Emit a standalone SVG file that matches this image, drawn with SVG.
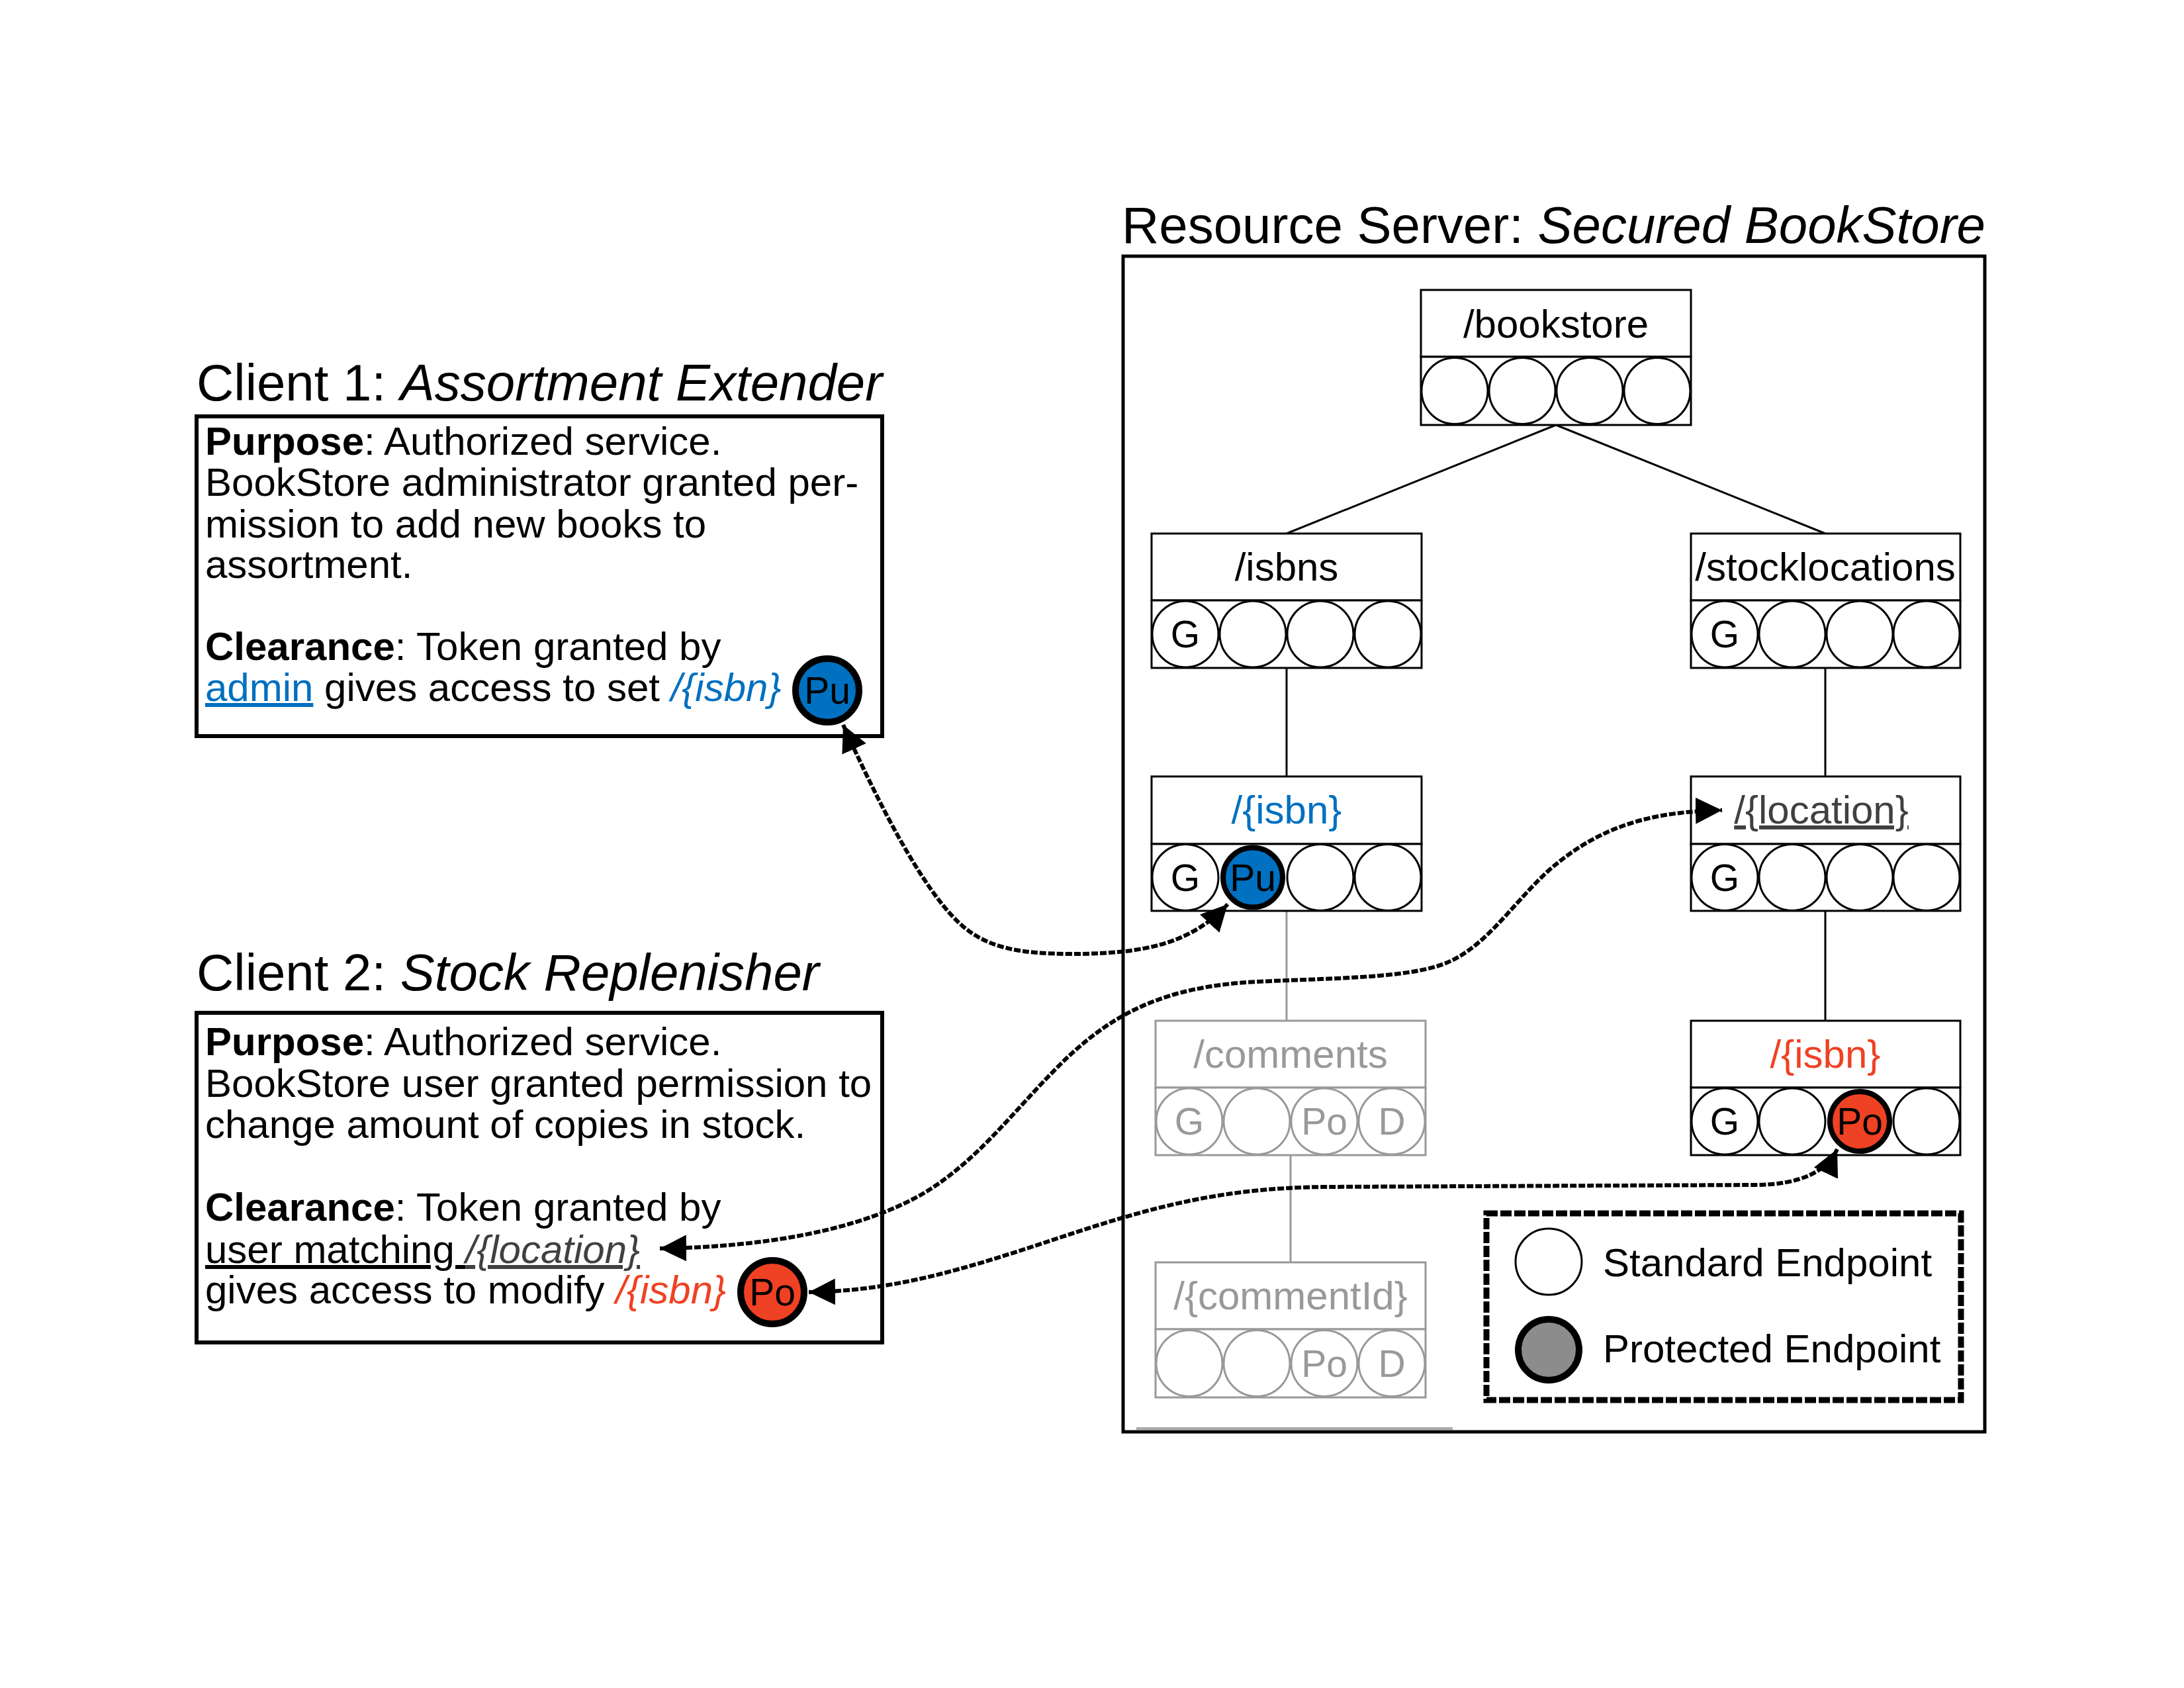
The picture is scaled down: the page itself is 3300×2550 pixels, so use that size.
<svg xmlns="http://www.w3.org/2000/svg" width="3300" height="2550" viewBox="0 0 3300 2550">
<style>
text{font-family:"Liberation Sans",Arial,sans-serif;fill:#000}
.title{font-size:78px}
.body{font-size:60px}
.hdr{font-size:60px;text-anchor:middle}
.ltr{font-size:57px;text-anchor:middle}
.box{fill:#fff;stroke:#000;stroke-width:3}
.gbox{fill:#fff;stroke:#999;stroke-width:3}
.ep{fill:#fff;stroke:#000;stroke-width:3}
.gep{fill:#fff;stroke:#999;stroke-width:3}
.gtxt{fill:#999}
.tree{stroke:#000;stroke-width:3;fill:none}
.gtree{stroke:#999;stroke-width:3;fill:none}
.conn{fill:none;stroke:#000;stroke-width:6;stroke-dasharray:10 3;marker-start:url(#arr);marker-end:url(#arr)}
.b{font-weight:bold}
.i{font-style:italic}
.blue{fill:#0070C0}
.red{fill:#EF4123}
.dg{fill:#404040}
.u{text-decoration:underline}
</style>
<defs>
<marker id="arr" markerUnits="userSpaceOnUse" markerWidth="42" markerHeight="42" refX="40" refY="20" orient="auto-start-reverse" viewBox="0 0 42 42">
<path d="M0,0 L40,20 L0,40 Z" fill="#000"/>
</marker>
</defs>
<rect width="3300" height="2550" fill="#fff"/>

<!-- Resource server frame -->
<g id="server">
<text class="title" x="1695" y="367">Resource Server: <tspan class="i">Secured BookStore</tspan></text>
<rect x="1697" y="387" width="1302" height="1776" fill="none" stroke="#000" stroke-width="5"/>
<line x1="1717" y1="2158" x2="2195" y2="2158" stroke="#aaa" stroke-width="4"/>
</g>

<!-- tree connectors -->
<g id="tree-edges">
<line class="tree" x1="2351" y1="642" x2="1944" y2="806"/>
<line class="tree" x1="2351" y1="642" x2="2758" y2="806"/>
<line class="tree" x1="1944" y1="1009" x2="1944" y2="1173"/>
<line class="tree" x1="2758" y1="1009" x2="2758" y2="1173"/>
<line class="gtree" x1="1944" y1="1376" x2="1944" y2="1542"/>
<line class="tree" x1="2758" y1="1376" x2="2758" y2="1542"/>
<line class="gtree" x1="1950" y1="1745" x2="1950" y2="1907"/>
</g>

<!-- Client 1 -->
<g id="client1">
<text class="title" x="297" y="605">Client 1: <tspan class="i">Assortment Extender</tspan></text>
<rect x="297" y="629" width="1036" height="483" fill="#fff" stroke="#000" stroke-width="6"/>
<text class="body" x="310" y="687"><tspan class="b">Purpose</tspan>: Authorized service.</text>
<text class="body" x="310" y="749">BookStore administrator granted per-</text>
<text class="body" x="310" y="812">mission to add new books to</text>
<text class="body" x="310" y="873">assortment.</text>
<text class="body" x="310" y="997"><tspan class="b">Clearance</tspan>: Token granted by</text>
<text class="body" x="310" y="1059"><tspan class="blue u">admin</tspan> gives access to set <tspan class="i blue">/{isbn}</tspan></text>
<circle cx="1250" cy="1043" r="48" fill="#0070C0" stroke="#000" stroke-width="10"/>
<text class="ltr" x="1250" y="1063">Pu</text>
</g>

<!-- Client 2 -->
<g id="client2">
<text class="title" x="297" y="1496">Client 2: <tspan class="i">Stock Replenisher</tspan></text>
<rect x="297" y="1530" width="1036" height="498" fill="#fff" stroke="#000" stroke-width="6"/>
<text class="body" x="310" y="1594"><tspan class="b">Purpose</tspan>: Authorized service.</text>
<text class="body" x="310" y="1657">BookStore user granted permission to</text>
<text class="body" x="310" y="1719">change amount of copies in stock.</text>
<text class="body" x="310" y="1844"><tspan class="b">Clearance</tspan>: Token granted by</text>
<text class="body" x="310" y="1908"><tspan class="u">user matching </tspan><tspan class="i dg u">/{location}</tspan></text>
<text class="body" x="310" y="1969">gives access to modify <tspan class="i red">/{isbn}</tspan></text>
<circle cx="1167" cy="1952" r="48" fill="#EF4123" stroke="#000" stroke-width="10"/>
<text class="ltr" x="1167" y="1972">Po</text>
</g>

<!-- /bookstore -->
<g id="node-bookstore">
<rect class="box" x="2147" y="438" width="408" height="101"/>
<rect class="box" x="2147" y="539" width="408" height="103"/>
<text class="hdr" x="2351" y="510">/bookstore</text>
<circle class="ep" cx="2198" cy="590.5" r="50"/>
<circle class="ep" cx="2300" cy="590.5" r="50"/>
<circle class="ep" cx="2402" cy="590.5" r="50"/>
<circle class="ep" cx="2504" cy="590.5" r="50"/>
</g>

<!-- /isbns -->
<g id="node-isbns">
<rect class="box" x="1740" y="806" width="408" height="101"/>
<rect class="box" x="1740" y="907" width="408" height="102"/>
<text class="hdr" x="1944" y="877">/isbns</text>
<circle class="ep" cx="1791" cy="958" r="50"/>
<circle class="ep" cx="1893" cy="958" r="50"/>
<circle class="ep" cx="1995" cy="958" r="50"/>
<circle class="ep" cx="2097" cy="958" r="50"/>
<text class="ltr" x="1791" y="978">G</text>
</g>

<!-- /stocklocations -->
<g id="node-stocklocations">
<rect class="box" x="2555" y="806" width="407" height="101"/>
<rect class="box" x="2555" y="907" width="407" height="102"/>
<text class="hdr" x="2758" y="877">/stocklocations</text>
<circle class="ep" cx="2606" cy="958" r="50"/>
<circle class="ep" cx="2708" cy="958" r="50"/>
<circle class="ep" cx="2810" cy="958" r="50"/>
<circle class="ep" cx="2911" cy="958" r="50"/>
<text class="ltr" x="2606" y="978">G</text>
</g>

<!-- /{isbn} blue -->
<g id="node-isbn-blue">
<rect class="box" x="1740" y="1173" width="408" height="102"/>
<rect class="box" x="1740" y="1275" width="408" height="101"/>
<text class="hdr blue" x="1944" y="1244">/{isbn}</text>
<circle class="ep" cx="1791" cy="1325.5" r="50"/>
<circle class="ep" cx="1995" cy="1325.5" r="50"/>
<circle class="ep" cx="2097" cy="1325.5" r="50"/>
<circle cx="1893" cy="1325.5" r="45" fill="#0070C0" stroke="#000" stroke-width="8"/>
<text class="ltr" x="1791" y="1346">G</text>
<text class="ltr" x="1893" y="1346">Pu</text>
</g>

<!-- /{location} -->
<g id="node-location">
<rect class="box" x="2555" y="1173" width="407" height="102"/>
<rect class="box" x="2555" y="1275" width="407" height="101"/>
<text class="hdr dg u" x="2752" y="1244">/{location}</text>
<circle class="ep" cx="2606" cy="1325.5" r="50"/>
<circle class="ep" cx="2708" cy="1325.5" r="50"/>
<circle class="ep" cx="2810" cy="1325.5" r="50"/>
<circle class="ep" cx="2911" cy="1325.5" r="50"/>
<text class="ltr" x="2606" y="1346">G</text>
</g>

<!-- /comments (gray) -->
<g id="node-comments">
<rect class="gbox" x="1746" y="1542" width="408" height="101"/>
<rect class="gbox" x="1746" y="1643" width="408" height="102"/>
<text class="hdr gtxt" x="1950" y="1613">/comments</text>
<circle class="gep" cx="1797" cy="1694" r="50"/>
<circle class="gep" cx="1899" cy="1694" r="50"/>
<circle class="gep" cx="2001" cy="1694" r="50"/>
<circle class="gep" cx="2103" cy="1694" r="50"/>
<text class="ltr gtxt" x="1797" y="1714">G</text>
<text class="ltr gtxt" x="2001" y="1714">Po</text>
<text class="ltr gtxt" x="2103" y="1714">D</text>
</g>

<!-- /{isbn} red -->
<g id="node-isbn-red">
<rect class="box" x="2555" y="1542" width="407" height="101"/>
<rect class="box" x="2555" y="1643" width="407" height="102"/>
<text class="hdr red" x="2758" y="1613">/{isbn}</text>
<circle class="ep" cx="2606" cy="1694" r="50"/>
<circle class="ep" cx="2708" cy="1694" r="50"/>
<circle class="ep" cx="2911" cy="1694" r="50"/>
<circle cx="2810" cy="1694" r="45" fill="#EF4123" stroke="#000" stroke-width="8"/>
<text class="ltr" x="2606" y="1714">G</text>
<text class="ltr" x="2810" y="1714">Po</text>
</g>

<!-- /{commentId} (gray) -->
<g id="node-commentId">
<rect class="gbox" x="1746" y="1907" width="408" height="101"/>
<rect class="gbox" x="1746" y="2008" width="408" height="103"/>
<text class="hdr gtxt" x="1950" y="1978">/{commentId}</text>
<circle class="gep" cx="1797" cy="2059.5" r="50"/>
<circle class="gep" cx="1899" cy="2059.5" r="50"/>
<circle class="gep" cx="2001" cy="2059.5" r="50"/>
<circle class="gep" cx="2103" cy="2059.5" r="50"/>
<text class="ltr gtxt" x="2001" y="2080">Po</text>
<text class="ltr gtxt" x="2103" y="2080">D</text>
</g>

<!-- legend -->
<g id="legend">
<rect x="2246" y="1833" width="717" height="282" fill="none" stroke="#000" stroke-width="9" stroke-dasharray="17 4"/>
<circle class="ep" cx="2340" cy="1906" r="50"/>
<circle cx="2340" cy="2039" r="46" fill="#8C8C8C" stroke="#000" stroke-width="10"/>
<text class="body" x="2422" y="1928">Standard Endpoint</text>
<text class="body" x="2422" y="2058">Protected Endpoint</text>
</g>

<!-- access connectors -->
<g id="connectors">
<path class="conn" d="M1274,1095 C1300,1152 1380,1330 1450,1395 C1490,1432 1540,1441 1620,1441 C1730,1441 1800,1425 1855,1366"/>
<path class="conn" d="M997,1886 C1150,1884 1300,1860 1400,1800 C1480,1750 1530,1680 1600,1610 C1680,1530 1760,1490 1900,1483 C2000,1478 2110,1478 2170,1460 C2240,1440 2280,1370 2340,1315 C2420,1245 2500,1226 2602,1224"/>
<path class="conn" d="M1222,1952 C1350,1950 1450,1920 1600,1870 C1750,1820 1850,1795 2000,1793 L2650,1790 C2720,1790 2760,1770 2776,1736"/>
</g>
</svg>
